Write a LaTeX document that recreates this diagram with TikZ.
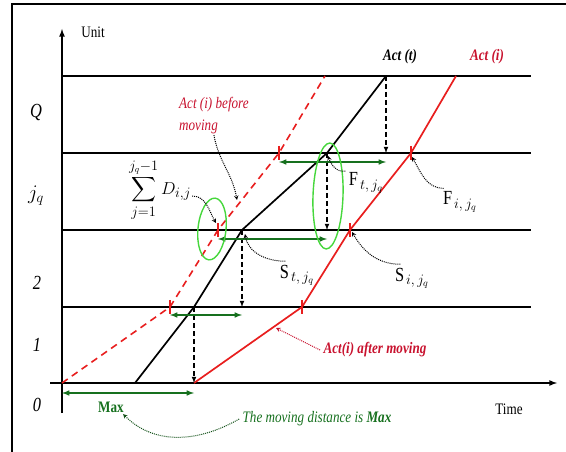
\documentclass[tikz,border=0pt]{standalone}
\usepackage{amsmath}
\usepackage{fontspec}
\setmainfont{Liberation Serif}[FakeStretch=0.82]
\usetikzlibrary{shapes.geometric}

\definecolor{actred}{RGB}{232,30,30}
\definecolor{txtred}{RGB}{200,18,46}
\definecolor{gapgreen}{RGB}{22,112,30}
\definecolor{ringgreen}{RGB}{70,215,60}

\begin{document}
\begin{tikzpicture}[x=1pt, y=-1pt,
    grid/.style={line width=1.6pt},
    actline/.style={line width=1.7pt, line join=round},
    move/.style={dash pattern=on 5pt off 3pt, -latex, line width=1.1pt},
    gap/.style={latex-latex, gapgreen, line width=1.5pt},
    ring/.style={ellipse, draw=ringgreen, line width=1.4pt, inner sep=0pt},
    lead/.style={densely dotted, -stealth, line width=1pt},
    tick/.style={actred, line width=1.1pt},
    txt/.style={font=\fontsize{16}{18}\selectfont},
    lvl/.style={font=\fontsize{20}{22}\selectfont\itshape},
    big/.style={font=\fontsize{20}{22}\selectfont}
]

    \useasboundingbox (0,0) rectangle (566,452);
    \draw[line width=1.2pt] (12,452) -- (12,4) -- (566,4);

    % axes
    \coordinate (ybot) at (62,413);
    \coordinate (ytop) at (62,29);
    \coordinate (xl) at (50,383);
    \coordinate (xr) at (557,383);
    \draw[grid, -latex] (ybot) -- (ytop);
    \draw[grid, -latex] (xl) -- (xr);
    \node[txt] (unit) at (93,32) {Unit};
    \node[txt] (time) at (509,409) {Time};

    % unit levels
    \foreach \y/\n in {307/1, 230/2, 153/3, 76/4} {
        \coordinate (L\n) at (62,\y);
        \coordinate (R\n) at (531,\y);
        \draw[grid] (L\n) -- (R\n);
    }
    \node[lvl] (labQ) at (36,113) {Q};
    \node[lvl] (labJ) at (36,196) {$j_q$};
    \node[lvl] (lab2) at (37,283) {2};
    \node[lvl] (lab1) at (37,345) {1};
    \node[lvl] (lab0) at (37,405) {0};

    % activities
    \coordinate (t0) at (135,383);
    \coordinate (t1) at (194,307);
    \coordinate (t2) at (242,230);
    \coordinate (t3) at (327,153);
    \coordinate (t4) at (386,76);

    \coordinate (b0) at (62,383);
    \coordinate (b1) at (170,307);
    \coordinate (b2) at (218,230);
    \coordinate (b3) at (279,153);
    \coordinate (b4) at (325,76);

    \coordinate (a0) at (194,383);
    \coordinate (a1) at (302,307);
    \coordinate (a2) at (350,230);
    \coordinate (a3) at (411,153);
    \coordinate (a4) at (456,76);

    \draw[actline] (t0) -- (t1) -- (t2) -- (t3) -- (t4);
    \draw[actline, actred, dash pattern=on 7pt off 5pt, line width=1.6pt] (b0) -- (b1) -- (b2) -- (b3) -- (b4);
    \draw[actline, actred] (a0) -- (a1) -- (a2) -- (a3) -- (a4);

    \foreach \p in {b1, b2, b3, a1, a2, a3}
        \draw[tick] ([yshift=7pt]\p) -- ([yshift=-7pt]\p);

    % moving down
    \coordinate (d4) at (386,153);
    \coordinate (d3) at (327,230);
    \coordinate (d2) at (242,307);
    \draw[move] (t4) -- (d4);
    \draw[move] (t3) -- (d3);
    \draw[move] (t2) -- (d2);
    \draw[move] (t1) -- (a0);

    % gaps
    \coordinate (g0l) at (62,393);  \coordinate (g0r) at (194,393);
    \coordinate (g1l) at (170,315); \coordinate (g1r) at (242,315);
    \coordinate (g2l) at (218,239); \coordinate (g2r) at (327,239);
    \coordinate (g3l) at (279,162); \coordinate (g3r) at (386,162);
    \draw[gap] (g0l) -- (g0r);
    \draw[gap] (g1l) -- (g1r);
    \draw[gap] (g2l) -- (g2r);
    \draw[gap] (g3l) -- (g3r);

    \node[ring, minimum width=28pt, minimum height=62pt, rotate=-6] (ringD) at (212,229) {};
    \node[ring, minimum width=30pt, minimum height=106pt, rotate=-2] (ringF) at (328,196) {};

    % labels
    \node[txt, font=\fontsize{16}{18}\selectfont\bfseries\itshape] (actT) at (400,57) {Act (t)};
    \node[txt, font=\fontsize{16}{18}\selectfont\bfseries\itshape, text=txtred] (actI) at (487,57) {Act (i)};
    \node[font=\fontsize{16}{22}\selectfont\itshape, text=txtred, align=left, anchor=north west, inner sep=1pt] (before) at (178,96) {Act (i) before\\moving};
    \node[font=\fontsize{19}{21}\selectfont, inner sep=1pt] (sumD) at (160,190) {$\displaystyle\sum_{j=1}^{j_q-1} D_{i,j}$};
    \node[big] (Ft) at (366,183) {$\mathrm{F}_{t,\,j_q}$};
    \node[big] (Fi) at (460,202) {$\mathrm{F}_{i,\,j_q}$};
    \node[big] (St) at (297,275) {$\mathrm{S}_{t,\,j_q}$};
    \node[big] (Si) at (412,278) {$\mathrm{S}_{i,\,j_q}$};
    \node[txt, font=\fontsize{16}{18}\selectfont\bfseries\itshape, text=txtred] (after) at (375,350) {Act(i) after moving};
    \node[txt, font=\fontsize{16}{18}\selectfont\bfseries, text=gapgreen] (maxL) at (111,407) {Max};
    \node[txt, font=\fontsize{16}{18}\selectfont\itshape, text=gapgreen] (note) at (317,419) {The moving distance is \textbf{Max}};

    % leaders
    \coordinate (pB) at (237,200);
    \coordinate (pD) at (216,223);
    \coordinate (pSt) at (245,234);
    \coordinate (pSi) at (352,232);
    \coordinate (pFt) at (328,156);
    \coordinate (pFi) at (412,157);
    \coordinate (pA) at (276,328);
    \coordinate (pM) at (123,414);
    \draw[lead] (before.south) to[out=-80, in=100] (pB);
    \draw[lead] ([yshift=-6pt]sumD.east) to[out=0, in=120] (pD);
    \draw[lead] (St.130) to[out=180, in=-80] (pSt);
    \draw[lead] (Si.130) to[out=180, in=-60] (pSi);
    \draw[lead] (Ft.150) to[out=190, in=-70] (pFt);
    \draw[lead] (Fi.140) to[out=180, in=-60] (pFi);
    \draw[lead, txtred] (after.west) -- (pA);
    \draw[lead, gapgreen!70!black] (note.west) to[out=-150, in=-45] (pM);
\end{tikzpicture}
\end{document}
